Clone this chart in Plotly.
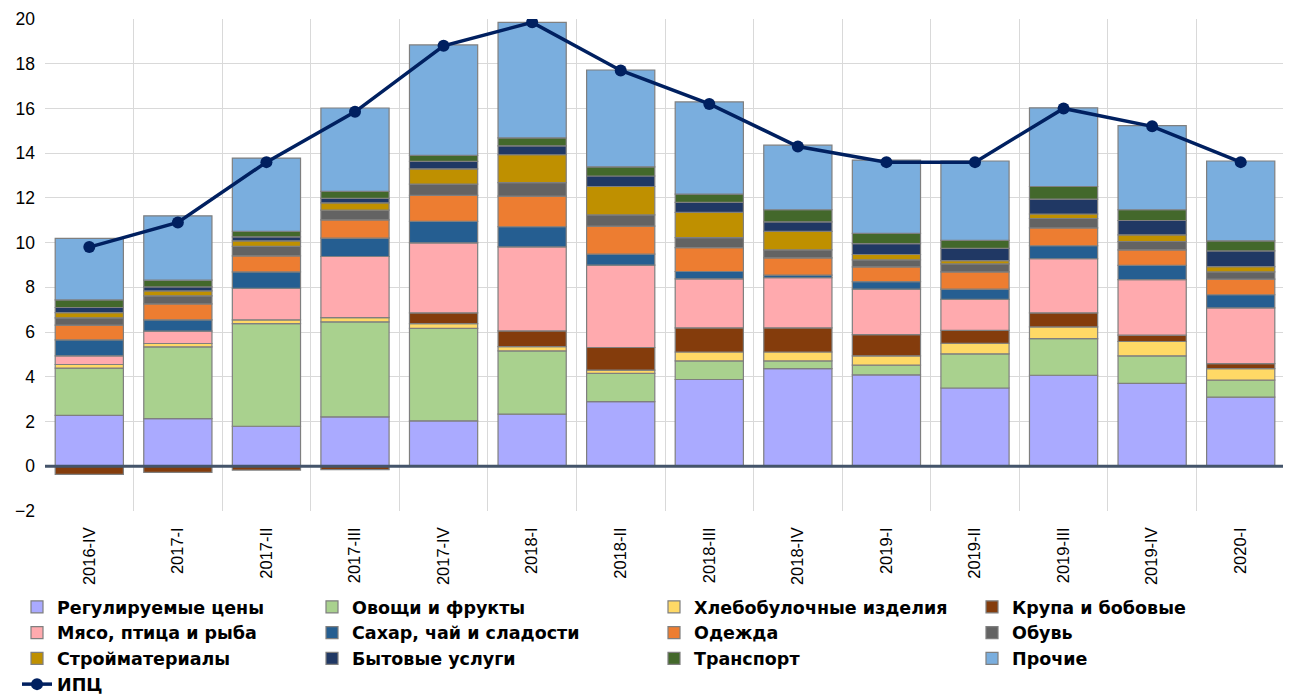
import plotly.graph_objects as go

categories = ["2016-IV", "2017-I", "2017-II", "2017-III", "2017-IV", "2018-I", "2018-II",
              "2018-III", "2018-IV", "2019-I", "2019-II", "2019-III", "2019-IV", "2020-I"]

regulated = [2.28, 2.13, 1.79, 2.21, 2.03, 2.33, 2.89, 3.88, 4.37, 4.09, 3.50, 4.07, 3.71, 3.09]
vegetables = [2.11, 3.21, 4.59, 4.25, 4.14, 2.83, 1.26, 0.83, 0.34, 0.43, 1.53, 1.64, 1.23, 0.76]
bread = [0.16, 0.15, 0.17, 0.19, 0.21, 0.19, 0.15, 0.40, 0.40, 0.42, 0.47, 0.52, 0.64, 0.52]
cereals = [-0.36, -0.27, -0.17, -0.15, 0.48, 0.70, 1.01, 1.08, 1.08, 0.95, 0.58, 0.63, 0.28, 0.22]
meat = [0.39, 0.55, 1.41, 2.73, 3.13, 3.76, 3.68, 2.19, 2.24, 2.03, 1.38, 2.42, 2.49, 2.49]
sugar = [0.71, 0.51, 0.73, 0.82, 0.96, 0.90, 0.50, 0.33, 0.12, 0.34, 0.46, 0.58, 0.63, 0.59]
clothes = [0.66, 0.71, 0.72, 0.82, 1.16, 1.37, 1.25, 1.07, 0.77, 0.66, 0.77, 0.80, 0.70, 0.70]
shoes = [0.33, 0.36, 0.42, 0.43, 0.51, 0.60, 0.50, 0.44, 0.36, 0.31, 0.36, 0.42, 0.37, 0.32]
building = [0.23, 0.22, 0.25, 0.33, 0.68, 1.25, 1.27, 1.13, 0.82, 0.24, 0.15, 0.20, 0.30, 0.24]
services = [0.23, 0.18, 0.18, 0.20, 0.33, 0.40, 0.47, 0.45, 0.43, 0.49, 0.54, 0.67, 0.64, 0.70]
transport = [0.34, 0.30, 0.25, 0.31, 0.27, 0.35, 0.41, 0.37, 0.54, 0.45, 0.36, 0.56, 0.48, 0.45]
other = [2.75, 2.88, 3.27, 3.73, 4.94, 5.17, 4.33, 4.12, 2.89, 3.28, 3.55, 3.52, 3.76, 3.57]
cpi = [9.8, 10.9, 13.6, 15.85, 18.8, 19.85, 17.7, 16.2, 14.3, 13.6, 13.6, 16.0, 15.2, 13.6]

series = [
    ("Регулируемые цены", regulated, "#AAAAFF"),
    ("Овощи и фрукты", vegetables, "#A9D18E"),
    ("Хлебобулочные изделия", bread, "#FFD966"),
    ("Крупа и бобовые", cereals, "#843C0C"),
    ("Мясо, птица и рыба", meat, "#FFAAAE"),
    ("Сахар, чай и сладости", sugar, "#255E91"),
    ("Одежда", clothes, "#ED7D31"),
    ("Обувь", shoes, "#636363"),
    ("Стройматериалы", building, "#BF9000"),
    ("Бытовые услуги", services, "#203864"),
    ("Транспорт", transport, "#43682B"),
    ("Прочие", other, "#7AAEDE"),
]

legend_ids = ["legend", "legend2", "legend3", "legend4"]

fig = go.Figure()
for i, (name, vals, color) in enumerate(series):
    fig.add_trace(go.Bar(
        x=categories, y=vals, name=name, legend=legend_ids[i % 4],
        marker=dict(color=color, line=dict(color="#7F7F7F", width=1.2)),
    ))

fig.add_trace(go.Scatter(
    x=categories, y=cpi, name="ИПЦ", mode="lines+markers", legend="legend",
    line=dict(color="#002060", width=3.5),
    marker=dict(color="#002060", size=12),
))

fig.add_shape(type="line", xref="paper", x0=0, x1=1, yref="y", y0=0, y1=0,
              line=dict(color="#44546A", width=3), layer="above")

W, H = 1283, 690
legend_font = dict(family="DejaVu Sans", size=17.5, color="#000000", weight="bold")
legend_top = 1 - 581 / H
legend_xs = [9, 304, 646, 964]


def legend_cfg(xpix):
    return dict(
        orientation="v", xref="container", yref="container",
        x=xpix / W, y=legend_top, xanchor="left", yanchor="top",
        traceorder="normal", font=legend_font, tracegroupgap=0, itemwidth=30,
        bgcolor="rgba(0,0,0,0)",
    )


fig.update_layout(
    width=W, height=H,
    margin=dict(l=37, r=6, t=11, b=187, autoexpand=False),
    barmode="relative", bargap=0.23,
    plot_bgcolor="white", paper_bgcolor="white",
    font=dict(family="Liberation Sans", color="#000000"),
    showlegend=True,
    legend=legend_cfg(legend_xs[0]),
    legend2=legend_cfg(legend_xs[1]),
    legend3=legend_cfg(legend_xs[2]),
    legend4=legend_cfg(legend_xs[3]),
)

fig.update_xaxes(
    type="category", range=[-0.5, len(categories) - 0.5], tickangle=-90, tickson="boundaries",
    showgrid=True, gridcolor="#D9D9D9", gridwidth=1,
    tickfont=dict(family="Liberation Sans", size=16.5, color="#000000"),
    ticks="", showline=False, ticklabelstandoff=12, automargin=False,
)
fig.update_yaxes(
    range=[-2, 20], dtick=2, showgrid=True, gridcolor="#D9D9D9", gridwidth=1,
    zeroline=False, tickfont=dict(family="Liberation Sans", size=17.5, color="#000000"),
    ticks="", showline=False, ticklabelstandoff=9, automargin=False,
)

fig.write_html("out.html")
